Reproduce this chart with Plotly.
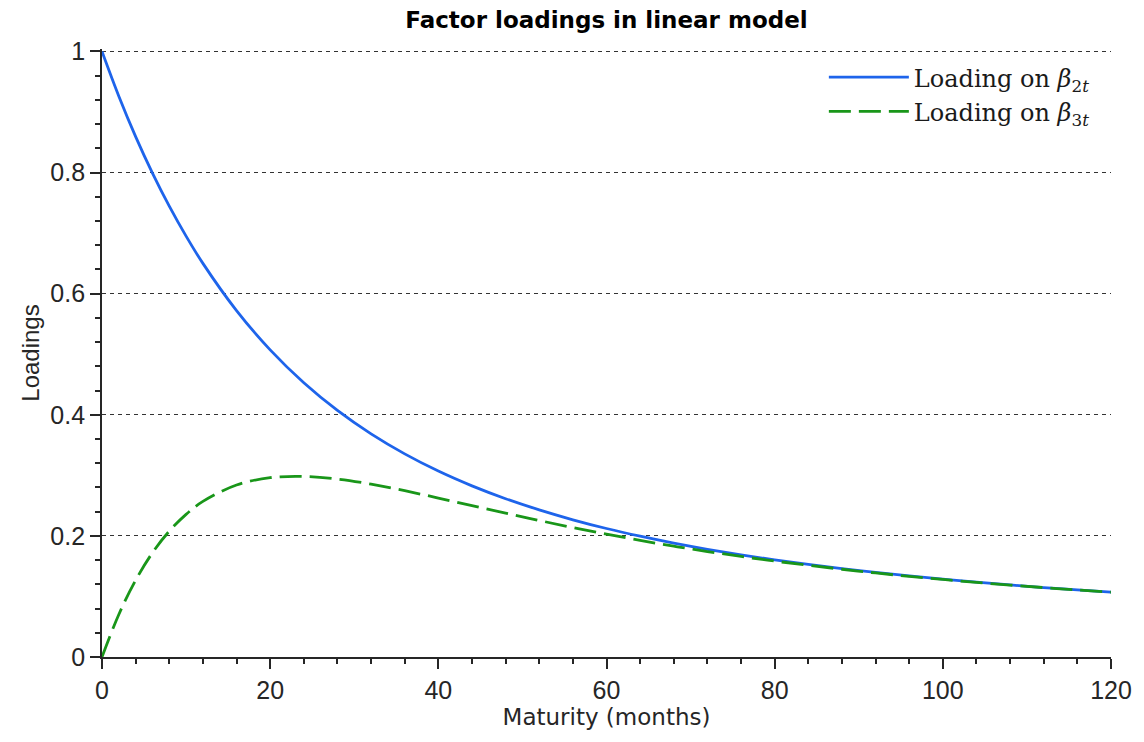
import plotly.graph_objects as go

maturity = [0, 2, 4, 6, 8, 10, 12, 16, 20, 24, 28, 32, 36, 40, 44, 48, 52, 56, 60,
            64, 68, 72, 76, 80, 84, 88, 92, 96, 100, 104, 108, 112, 116, 120]
loading_b2 = [1.0, 0.9261, 0.8594, 0.7991, 0.7445, 0.6950, 0.6500, 0.5720, 0.5071,
              0.4528, 0.4071, 0.3684, 0.3354, 0.3070, 0.2826, 0.2614, 0.2429, 0.2266,
              0.2122, 0.1995, 0.1881, 0.1779, 0.1687, 0.1604, 0.1528, 0.1459, 0.1396,
              0.1338, 0.1285, 0.1236, 0.1190, 0.1147, 0.1108, 0.1071]
loading_b3 = [0.0, 0.0702, 0.1268, 0.1721, 0.2078, 0.2356, 0.2569, 0.2840, 0.2961,
              0.2982, 0.2939, 0.2854, 0.2746, 0.2625, 0.2500, 0.2375, 0.2254, 0.2138,
              0.2028, 0.1926, 0.1830, 0.1742, 0.1660, 0.1584, 0.1514, 0.1449, 0.1388,
              0.1332, 0.1281, 0.1232, 0.1188, 0.1146, 0.1107, 0.1070]

x_ticks = [0, 20, 40, 60, 80, 100, 120]
y_ticks = [0, 0.2, 0.4, 0.6, 0.8, 1]
y_ticklabels = ["0", "0.2", "0.4", "0.6", "0.8", "1"]

axis_color = "#262626"
sans = "Liberation Sans, Arial"

fig = go.Figure()
fig.add_trace(go.Scatter(
    x=maturity, y=loading_b2, mode="lines", line_shape="spline",
    name="Loading on <i>β</i><sub>2<i>t</i></sub>",
    line=dict(color="rgb(30,100,235)", width=2.8),
))
fig.add_trace(go.Scatter(
    x=maturity, y=loading_b3, mode="lines", line_shape="spline",
    name="Loading on <i>β</i><sub>3<i>t</i></sub>",
    line=dict(color="rgb(25,150,25)", width=2.8, dash="22px,8px"),
))

fig.update_layout(
    width=1144, height=742,
    margin=dict(l=102, r=33, t=49, b=85),
    paper_bgcolor="white", plot_bgcolor="white",
    title=dict(text="<b>Factor loadings in linear model</b>", x=0.5, xref="paper",
               xanchor="center", y=0.973, yanchor="middle",
               font=dict(family="DejaVu Sans", size=23, color="black")),
    font=dict(family=sans, size=24, color=axis_color),
    showlegend=True,
    legend=dict(x=0.984, xanchor="right", y=0.99, yanchor="top",
                bgcolor="rgba(0,0,0,0)", borderwidth=0,
                font=dict(family="DejaVu Serif, Liberation Serif", size=24, color="#1a1a1a"),
                tracegroupgap=0, itemwidth=80),
)

fig.update_xaxes(
    range=[0, 120], tickvals=x_ticks, ticks="outside", ticklen=10, tickwidth=1.5,
    tickcolor=axis_color, showline=True, linecolor=axis_color, linewidth=1.8,
    showgrid=False, zeroline=False,
    minor=dict(dtick=4, ticks="outside", ticklen=5, tickwidth=1.5, tickcolor=axis_color, showgrid=False),
    title=dict(text="Maturity (months)", standoff=6, font=dict(family="DejaVu Sans", size=23, color=axis_color)),
    tickfont=dict(size=25, color=axis_color),
)
fig.update_yaxes(
    range=[0, 1.004], tickvals=y_ticks, ticktext=y_ticklabels, ticks="outside", ticklen=10,
    tickwidth=1.5, tickcolor=axis_color, showline=True, linecolor=axis_color, linewidth=1.8,
    showgrid=True, gridcolor="#333333", gridwidth=1, griddash="4px,4px", zeroline=False,
    minor=dict(dtick=0.04, ticks="outside", ticklen=5, tickwidth=1.5, tickcolor=axis_color, showgrid=False),
    title=dict(text="Loadings", standoff=4, font=dict(size=24, color=axis_color)),
    tickfont=dict(size=25, color=axis_color),
)

fig.write_html("out.html")
